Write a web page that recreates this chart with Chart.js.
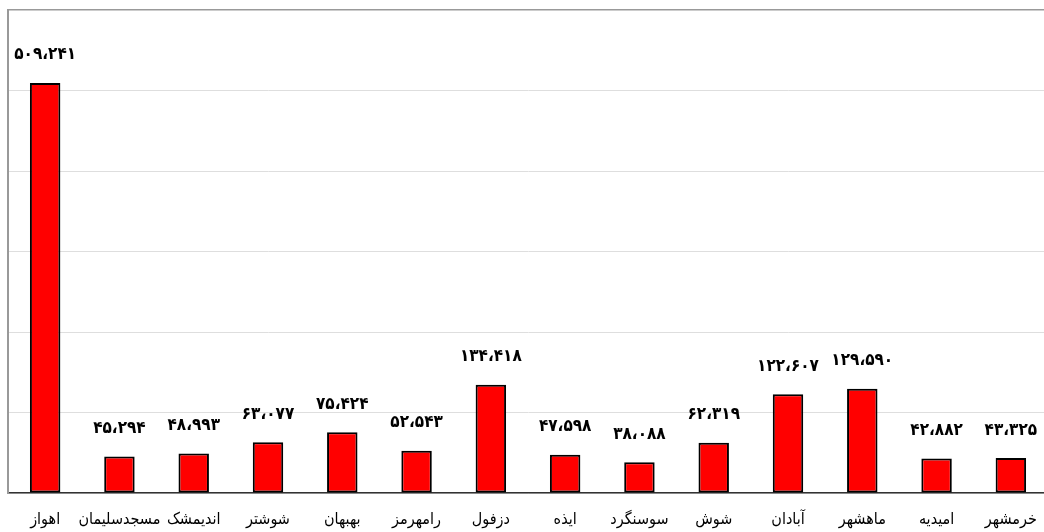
<!DOCTYPE html>
<html>
<head>
<meta charset="utf-8">
<script src="https://cdn.jsdelivr.net/npm/chart.js@4.4.0/dist/chart.umd.min.js"></script>
<style>
  html, body { margin: 0; padding: 0; background: #fff; overflow: hidden; }
  #wrap { width: 1048px; height: 532px; }
</style>
</head>
<body>
<div id="wrap"><canvas id="bar-chart"></canvas></div>
<script>
// شهرها
var shahrha = ['اهواز', 'مسجدسلیمان', 'اندیمشک', 'شوشتر', 'بهبهان', 'رامهرمز', 'دزفول', 'ایذه', 'سوسنگرد', 'شوش', 'آبادان', 'ماهشهر', 'امیدیه', 'خرمشهر'];
var meghdar = [509.241, 45.294, 48.993, 63.077, 75.424, 52.543, 134.418, 47.598, 38.088, 62.319, 122.607, 129.590, 42.882, 43.325];
var yTicks = [0, 100, 200, 300, 400, 500, 600];

function faNum(v) {
    var s = v.toFixed(3);
    var fa = '۰۱۲۳۴۵۶۷۸۹';
    return s.replace(/[0-9]/g, function(d) { return fa[+d]; }).replace('.', '،');
}

// etichette sopra le barre
var labelPlugin = {
    id: 'labelSopra',
    afterDatasetsDraw: function(chart) {
        var ctx = chart.ctx;
        var meta = chart.getDatasetMeta(0);
        ctx.save();
        ctx.font = 'bold 17px "DejaVu Sans Condensed", "DejaVu Sans"';
        ctx.fillStyle = '#000';
        ctx.textAlign = 'center';
        ctx.textBaseline = 'middle';
        meta.data.forEach(function(bar, i) {
            ctx.fillText(faNum(meghdar[i]), bar.x, bar.y - 28);
        });
        ctx.restore();
    }
};

var ctx = document.getElementById('bar-chart');
var chart = new Chart(ctx, {
    type: 'bar',
    data: {
        labels: shahrha,
        datasets: [{
            data: meghdar,
            backgroundColor: '#FF0000',
            borderColor: '#000000',
            borderWidth: 2,
            borderSkipped: false,
            categoryPercentage: 1,
            barPercentage: 0.41
        }]
    },
    options: {
        responsive: true,
        maintainAspectRatio: false,
        animation: false,
        layout: { padding: { left: 8, top: 10, right: 0, bottom: 0 } },
        plugins: {
            legend: { display: false },
            tooltip: { enabled: false }
        },
        scales: {
            x: {
                grid: { display: false, drawTicks: false },
                border: { color: '#333', width: 1.5 },
                afterFit: function(axis) {
                    axis.height = 39;
                    axis.paddingLeft = 0;
                    axis.paddingRight = 0;
                },
                ticks: {
                    color: '#000',
                    font: { family: '"DejaVu Sans Condensed", "DejaVu Sans"', size: 16 },
                    padding: 17,
                    maxRotation: 0,
                    minRotation: 0,
                    autoSkip: false
                }
            },
            y: {
                min: 0,
                max: 600,
                afterBuildTicks: function(axis) {
                    axis.ticks = yTicks.map(function(v) { return { value: v }; });
                },
                grid: {
                    color: function(c) { return c.tick && c.tick.value === 600 ? '#999' : '#dedede'; },
                    lineWidth: function(c) { return c.tick && c.tick.value === 600 ? 1.5 : 1; },
                    drawTicks: false
                },
                border: { color: '#999', width: 2 },
                ticks: { display: false }
            }
        }
    },
    plugins: [labelPlugin]
});
</script>
</body>
</html>
